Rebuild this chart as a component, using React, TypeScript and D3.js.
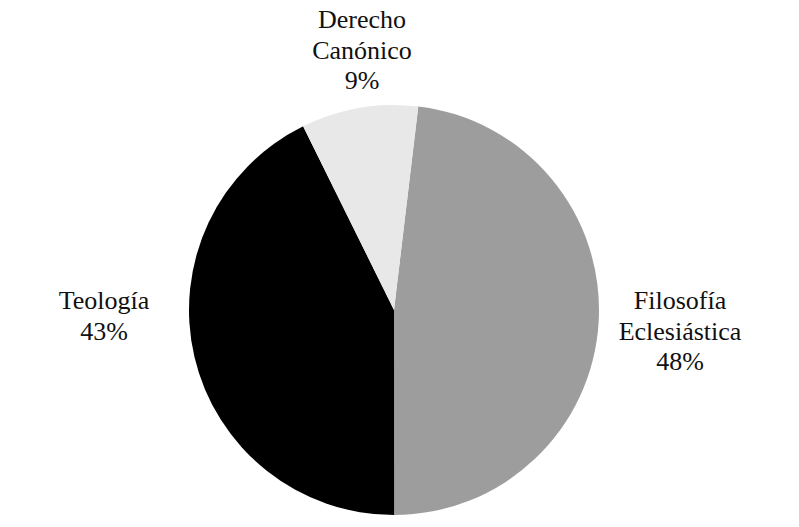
import React from "react";
import * as d3 from "d3";

const categories = ["Filosofía Eclesiástica", "Teología", "Derecho Canónico"];
const values = [48.1, 42.7, 9.2];
const percentLabels = ["48%", "43%", "9%"];
const labelLines = [["Filosofía", "Eclesiástica"], ["Teología"], ["Derecho", "Canónico"]];
const colors = ["#9d9d9d", "#000000", "#e8e8e8"];

const W = 799;
const H = 527;
const cx = 394;
const cy = 310;
const R = 205;
const startDeg = 6.8;
// label block anchor (center x, first baseline y) — layout
const labelAnchors = [
  { x: 680, y: 309 },
  { x: 104, y: 309 },
  { x: 362, y: 28 },
];
const lineH = 30.7;

export default function App() {
  const pie = d3
    .pie<number>()
    .sort(null)
    .startAngle((startDeg * Math.PI) / 180)
    .endAngle((startDeg * Math.PI) / 180 + 2 * Math.PI);
  const arcs = pie(values);
  const arc = d3.arc<d3.PieArcDatum<number>>().innerRadius(0).outerRadius(R);

  return (
    <svg
      width={W}
      height={H}
      style={{ position: "absolute", left: 0, top: 0, background: "#fff" }}
    >
      <rect width={W} height={H} fill="#fff" />
      <g transform={`translate(${cx},${cy})`}>
        {arcs.map((a, i) => (
          <path key={categories[i]} d={arc(a) || ""} fill={colors[i]} />
        ))}
      </g>
      {arcs.map((a, i) => {
        const lines = [...labelLines[i], percentLabels[i]];
        const pos = labelAnchors[i];
        return (
          <text
            key={"l" + i}
            x={pos.x}
            y={pos.y}
            textAnchor="middle"
            fontFamily="'Liberation Serif', 'Times New Roman', serif"
            fontSize={26}
            fill="#111"
          >
            {lines.map((t, j) => (
              <tspan key={j} x={pos.x} y={pos.y + j * lineH}>
                {t}
              </tspan>
            ))}
          </text>
        );
      })}
    </svg>
  );
}
